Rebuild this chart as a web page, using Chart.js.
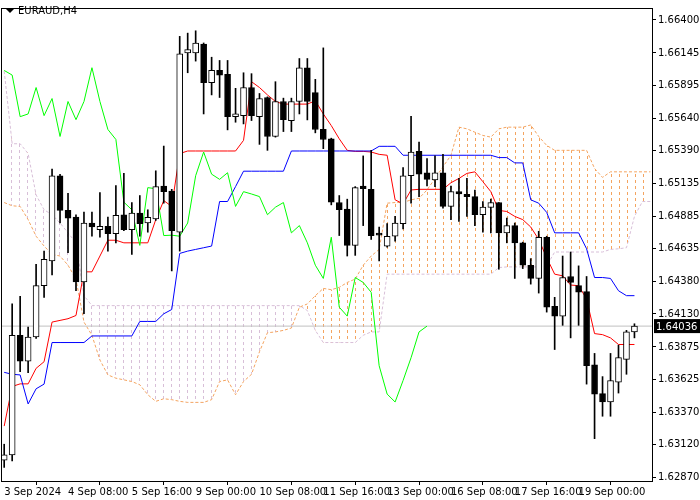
<!DOCTYPE html>
<html>
<head>
<meta charset="utf-8">
<script src="https://cdn.jsdelivr.net/npm/chart.js@4"></script>
<style>
  html, body { margin: 0; padding: 0; background: #fff; }
  #wrap { width: 700px; height: 500px; }
</style>
</head>
<body>
<div id="wrap"><canvas id="chart"></canvas></div>
<script>
// EURAUD H4 candles, bar 0 = 3 Sep 2024 00:00
const opens = [1.63001,1.63042,1.63965,1.63766,1.63952,1.64348,1.64539,1.65197,1.64929,1.64878,
  1.64378,1.64832,1.64781,1.64807,1.64750,1.64896,1.64781,1.64909,1.64832,1.64863,
  1.65118,1.65079,1.64761,1.66145,1.66145,1.66214,1.65916,1.66010,1.65980,1.65653,
  1.65661,1.65878,1.65653,1.65801,1.65500,1.65770,1.65623,1.65770,1.66031,1.65839,
  1.65556,1.65482,1.64990,1.64939,1.64659,1.65118,1.65092,1.64743,1.64654,1.64730,
  1.64827,1.65197,1.65385,1.65220,1.65164,1.65220,1.64960,1.65074,1.65054,1.65036,
  1.64896,1.64952,1.64990,1.64756,1.64812,1.64679,1.64506,1.64404,1.64722,1.64189,
  1.64113,1.64419,1.64348,1.64302,1.63736,1.63514,1.63450,1.63603,1.63779,1.63991];
const highs = [1.63124,1.64207,1.64266,1.64029,1.64513,1.64615,1.65248,1.65207,1.65062,1.64896,
  1.64916,1.64916,1.65067,1.64878,1.65120,1.65215,1.64990,1.65044,1.64934,1.65235,
  1.65426,1.65092,1.66273,1.66298,1.66316,1.66222,1.66112,1.66087,1.66087,1.65872,
  1.65992,1.65985,1.65832,1.65806,1.65923,1.65796,1.65796,1.66102,1.66102,1.65941,
  1.66184,1.65487,1.65044,1.65016,1.65113,1.65350,1.65393,1.64801,1.64827,1.64883,
  1.65260,1.65656,1.65457,1.65329,1.65350,1.65362,1.65118,1.65176,1.65176,1.65087,
  1.64998,1.65016,1.64990,1.64870,1.64832,1.64684,1.64557,1.64768,1.64730,1.64258,
  1.64577,1.64608,1.64501,1.64419,1.63825,1.63646,1.63825,1.63889,1.64003,1.64054];
const lows = [1.62945,1.62996,1.63685,1.63677,1.63940,1.64258,1.64432,1.64832,1.64603,1.64309,
  1.64131,1.64730,1.64722,1.64615,1.64679,1.64773,1.64590,1.64730,1.64761,1.64852,
  1.64985,1.64462,1.64615,1.65992,1.66082,1.65674,1.65821,1.65801,1.65551,1.65610,
  1.65597,1.65623,1.65439,1.65393,1.65495,1.65538,1.65538,1.65674,1.65628,1.65528,
  1.65406,1.64972,1.64735,1.64577,1.64582,1.64812,1.64705,1.64539,1.64646,1.64692,
  1.64786,1.64985,1.65036,1.65118,1.65113,1.64947,1.64858,1.64845,1.64883,1.64812,
  1.64761,1.64756,1.64475,1.64679,1.64404,1.64480,1.64360,1.64291,1.64144,1.63855,
  1.64042,1.63945,1.64042,1.63588,1.63167,1.63340,1.63340,1.63519,1.63664,1.63945];
const closes = [1.63042,1.63965,1.63766,1.63952,1.64348,1.64552,1.65197,1.64929,1.64870,1.64378,
  1.64832,1.64801,1.64807,1.64750,1.64891,1.64781,1.64909,1.64827,1.64875,1.65113,
  1.65074,1.64773,1.66138,1.66171,1.66222,1.65916,1.66010,1.65974,1.65653,1.65674,
  1.65878,1.65661,1.65793,1.65500,1.65770,1.65630,1.65770,1.66031,1.65770,1.65554,
  1.65477,1.64993,1.64934,1.64659,1.65105,1.65097,1.64735,1.64738,1.64730,1.64832,
  1.65197,1.65380,1.65209,1.65169,1.65220,1.64960,1.65074,1.65056,1.65036,1.64896,
  1.64954,1.64990,1.64756,1.64812,1.64679,1.64506,1.64404,1.64722,1.64182,1.64113,
  1.64411,1.64373,1.64297,1.63730,1.63511,1.63450,1.63616,1.63792,1.63991,1.64036];

// Ichimoku lines
const tenkan = [1.63264,1.63570,1.63590,1.63590,1.63710,1.63761,1.64067,1.64080,1.64093,1.64118,
  1.64455,1.64455,1.64577,1.64699,1.64699,1.64679,1.64679,1.64679,1.64679,1.64858,
  1.65005,1.64960,1.65368,1.65388,1.65388,1.65388,1.65388,1.65388,1.65388,1.65388,
  1.65470,1.65923,1.65878,1.65821,1.65770,1.65750,1.65750,1.65750,1.65750,1.65776,
  1.65674,1.65584,1.65482,1.65393,1.65385,1.65385,1.65380,1.65362,1.65355,1.65011,
  1.64980,1.65087,1.65092,1.65092,1.65092,1.65092,1.65143,1.65176,1.65215,1.65227,
  1.65151,1.65074,1.64929,1.64921,1.64883,1.64858,1.64801,1.64705,1.64564,1.64437,
  1.64424,1.64353,1.64348,1.64246,1.63978,1.63970,1.63945,1.63894,1.63894,1.63894];
const kijun = [1.63679,1.63664,1.63659,1.63435,1.63552,1.63588,1.63909,1.63909,1.63909,1.63909,
  1.63909,1.63960,1.63960,1.63960,1.63960,1.63960,1.63960,1.64072,1.64072,1.64072,
  1.64131,1.64164,1.64597,1.64615,1.64628,1.64641,1.64654,1.64998,1.64998,1.65113,
  1.65232,1.65232,1.65232,1.65232,1.65232,1.65232,1.65388,1.65388,1.65388,1.65388,
  1.65388,1.65388,1.65388,1.65388,1.65388,1.65388,1.65388,1.65424,1.65424,1.65424,
  1.65355,1.65355,1.65355,1.65355,1.65355,1.65355,1.65355,1.65355,1.65355,1.65355,
  1.65355,1.65355,1.65337,1.65337,1.65296,1.65296,1.65011,1.64985,1.64914,1.64756,
  1.64756,1.64756,1.64756,1.64633,1.64411,1.64411,1.64404,1.64309,1.64271,1.64271];
const senkouA = [1.64990,1.64965,1.64960,1.64858,1.64730,1.64654,1.64590,1.64577,1.64506,1.64399,
  1.64067,1.63965,1.63774,1.63659,1.63634,1.63621,1.63608,1.63583,1.63506,1.63455,
  1.63475,1.63468,1.63455,1.63447,1.63447,1.63447,1.63468,1.63608,1.63621,1.63506,
  1.63608,1.63664,1.63838,1.63985,1.63991,1.64003,1.64021,1.64182,1.64207,1.64271,
  1.64327,1.64317,1.64335,1.64373,1.64399,1.64506,1.64577,1.64628,1.64985,1.64990,
  1.64990,1.65011,1.65023,1.65087,1.65176,1.65266,1.65355,1.65572,1.65559,1.65533,
  1.65508,1.65495,1.65559,1.65572,1.65572,1.65572,1.65589,1.65500,1.65431,1.65393,
  1.65393,1.65393,1.65393,1.65393,1.65253,1.65184,1.65227,1.65227,1.65227,1.65227,
  1.65227,1.65227];
const senkouB = [1.66005,1.65444,1.65444,1.65368,1.65049,1.64934,1.64896,1.64832,1.64756,1.64679,
  1.64271,1.64194,1.64194,1.64194,1.64194,1.64194,1.64194,1.64194,1.64194,1.64194,
  1.64194,1.64194,1.64194,1.64194,1.64194,1.64194,1.64194,1.64194,1.64194,1.64194,
  1.64194,1.64194,1.64194,1.64194,1.64194,1.64194,1.64194,1.64194,1.64156,1.64003,
  1.63909,1.63909,1.63909,1.63909,1.63909,1.63965,1.63991,1.63991,1.64437,1.64437,
  1.64437,1.64437,1.64437,1.64437,1.64437,1.64437,1.64437,1.64437,1.64437,1.64437,
  1.64437,1.64437,1.64488,1.64493,1.64493,1.64493,1.64493,1.64493,1.64501,1.64608,
  1.64608,1.64608,1.64608,1.64608,1.64608,1.64608,1.64628,1.64633,1.64641,1.64883,
  1.64998,1.64998];

const xTicks = [0, 8, 16, 24, 32, 40, 48, 56, 64, 72];
const xLabels = ["3 Sep 2024", "4 Sep 08:00", "5 Sep 16:00", "9 Sep 00:00", "10 Sep 08:00",
  "11 Sep 16:00", "13 Sep 00:00", "16 Sep 08:00", "17 Sep 16:00", "19 Sep 00:00"];
const yTicks = [1.62870, 1.63120, 1.63370, 1.63625, 1.63875, 1.64130, 1.64380, 1.64635,
  1.64885, 1.65135, 1.65390, 1.65640, 1.65895, 1.66145, 1.66400];
const lastPrice = 1.64036;
const chikouShift = 26;

const FONT = "'DejaVu Sans', Tahoma, sans-serif";

// vertical dashed hatch for the cloud
function hatch(color) {
  const c = document.createElement("canvas");
  c.width = 8; c.height = 6;
  const g = c.getContext("2d");
  g.fillStyle = color;
  g.fillRect(3, 0, 1, 3);
  return g.createPattern(c, "repeat");
}

const pts = (arr) => arr.map((v, i) => ({ x: i, y: v }));
const chikou = closes.slice(chikouShift).map((v, i) => ({ x: i, y: v }));

const overlay = {
  id: "overlay",
  afterDraw(chart) {
    const { ctx, chartArea: a, scales } = chart;
    ctx.save();
    ctx.strokeStyle = "#000";
    ctx.lineWidth = 1;
    ctx.strokeRect(Math.round(a.left) + 0.5, Math.round(a.top) + 0.5,
      Math.round(a.right - a.left), Math.round(a.bottom - a.top));
    // title
    ctx.fillStyle = "#000";
    ctx.beginPath();
    ctx.moveTo(6, 9); ctx.lineTo(14, 9); ctx.lineTo(10, 13); ctx.closePath();
    ctx.fill();
    ctx.font = "10px " + FONT;
    ctx.textBaseline = "middle";
    ctx.fillText("EURAUD,H4", 18, 11);
    // last price box
    const y = scales.y.getPixelForValue(lastPrice);
    ctx.fillRect(a.right + 2, y - 7, 46, 14);
    ctx.fillStyle = "#fff";
    ctx.fillText(lastPrice.toFixed(5), a.right + 4, y + 1);
    ctx.restore();
  }
};

new Chart(document.getElementById("chart"), {
  data: {
    datasets: [
      {
        type: "line", label: "Senkou A", data: pts(senkouA), order: 5,
        borderColor: "#f4a460", borderWidth: 1, borderDash: [3, 2],
        pointRadius: 0, tension: 0,
        fill: { target: 1, above: hatch("#f4a460"), below: hatch("#d8bfd8") }
      },
      {
        type: "line", label: "Senkou B", data: pts(senkouB), order: 5,
        borderColor: "#d8bfd8", borderWidth: 1, borderDash: [3, 2],
        pointRadius: 0, tension: 0, fill: false
      },
      {
        type: "line", label: "Last", data: [{ x: -1, y: lastPrice }, { x: 82, y: lastPrice }],
        order: 4, borderColor: "#c0c0c0", borderWidth: 1, pointRadius: 0
      },
      {
        type: "line", label: "Chikou", data: chikou, order: 3,
        borderColor: "#00ff00", borderWidth: 1, pointRadius: 0, tension: 0
      },
      {
        type: "line", label: "Kijun", data: pts(kijun), order: 3,
        borderColor: "#0000ff", borderWidth: 1, pointRadius: 0, tension: 0
      },
      {
        type: "line", label: "Tenkan", data: pts(tenkan), order: 3,
        borderColor: "#ff0000", borderWidth: 1, pointRadius: 0, tension: 0
      },
      {
        type: "bar", label: "Wick", order: 1, grouped: false,
        data: closes.map((c, i) => ({ x: i, y: [lows[i], highs[i]] })),
        backgroundColor: "#000", barThickness: 1
      },
      {
        type: "bar", label: "Body", order: 0, grouped: false,
        data: closes.map((c, i) => ({ x: i, y: [opens[i], c] })),
        backgroundColor: closes.map((c, i) => (c >= opens[i] ? "#fff" : "#000")),
        borderColor: "#000", borderWidth: 1, borderSkipped: false,
        barThickness: 6, minBarLength: 2
      }
    ]
  },
  options: {
    responsive: true,
    maintainAspectRatio: false,
    animation: false,
    layout: { padding: { top: 3, left: 1, right: 0, bottom: 0 } },
    plugins: { legend: { display: false }, tooltip: { enabled: false } },
    scales: {
      x: {
        type: "linear", min: -0.4, max: 81.2, offset: false,
        grid: { drawOnChartArea: false, tickLength: 4, color: "#000" },
        border: { color: "#000" },
        afterBuildTicks: (s) => { s.ticks = xTicks.map((v) => ({ value: v })); },
        afterFit: (s) => { s.height = 19; },
        ticks: {
          autoSkip: false, maxRotation: 0, align: "start", padding: 1,
          color: "#000", font: { family: FONT, size: 10 },
          callback: (v) => xLabels[xTicks.indexOf(v)]
        }
      },
      y: {
        position: "right", min: 1.62840, max: 1.66492,
        grid: { drawOnChartArea: false, tickLength: 4, color: "#000" },
        border: { color: "#000" },
        afterBuildTicks: (s) => { s.ticks = yTicks.map((v) => ({ value: v })); },
        afterFit: (s) => { s.width = 48; },
        ticks: {
          autoSkip: false, padding: 2, color: "#000",
          font: { family: FONT, size: 10 },
          callback: (v) => v.toFixed(5)
        }
      }
    }
  },
  plugins: [overlay]
});
</script>
</body>
</html>
